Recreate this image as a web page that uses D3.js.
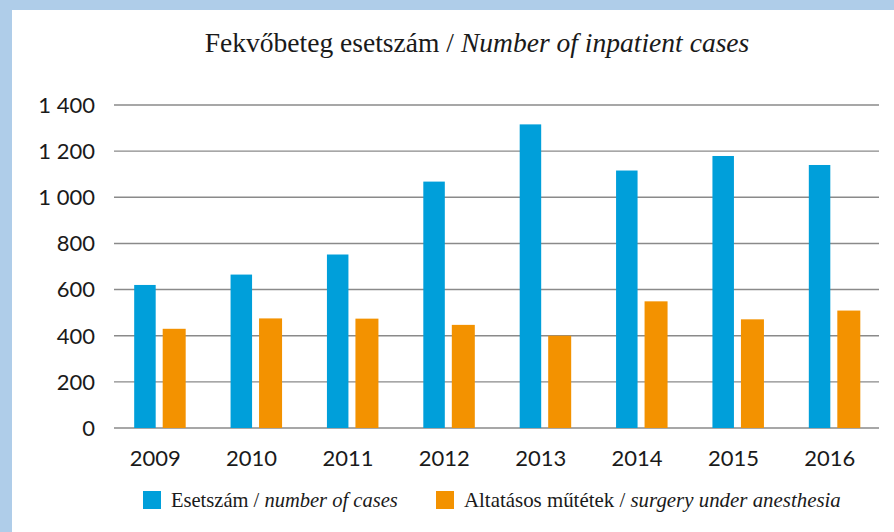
<!DOCTYPE html>
<html>
<head>
<meta charset="utf-8">
<script src="https://cdn.jsdelivr.net/npm/d3@7"></script>
<style>
    html, body { margin: 0; padding: 0; background: #fff; }
</style>
</head>
<body>
<div class="graphic"></div>
<script>
// values
const years = ["2009", "2010", "2011", "2012", "2013", "2014", "2015", "2016"]
const cases = [620, 665, 752, 1068, 1316, 1116, 1179, 1140]
const surgery = [430, 475, 474, 447, 400, 549, 471, 509]
const yTicks = [0, 200, 400, 600, 800, 1000, 1200, 1400]

const seriesNames = [
    ["Esetszám / ", "number of cases"],
    ["Altatásos műtétek / ", "surgery under anesthesia"]
]
const colors = ["#009fda", "#f39200"]

const width = 894
const height = 532
const serif = "'Liberation Serif', 'DejaVu Serif', serif"
const sans = "Lato, 'Open Sans', sans-serif"

function fitWidth(sel, target, ax) {
    // squeeze the serif text so it looks like the narrow original face
    let w = sel.node().getComputedTextLength()
    let s = target / w
    sel.attr("transform", "translate(" + ax + ",0) scale(" + s + ",1) translate(" + (-ax) + ",0)")
}

function setupChart() {
    let svg = d3.select(".graphic").append("svg")
        .attr("width", width)
        .attr("height", height)
        .style("display", "block")

    // light blue frame, top and left
    svg.append("rect").attr("x", 0).attr("y", 0).attr("width", width).attr("height", 10).attr("fill", "#afcde9")
    svg.append("rect").attr("x", 0).attr("y", 0).attr("width", 12).attr("height", height).attr("fill", "#afcde9")

    let y = d3.scaleLinear()
        .domain([0, 1400])
        .range([428, 105])

    let x = d3.scaleBand()
        .domain(years)
        .range([112, 883])
        .padding(0)

    // gridlines
    svg.selectAll("line.grid")
        .data(yTicks)
        .enter()
        .append("line")
        .attr("class", "grid")
        .attr("x1", 114)
        .attr("x2", 879)
        .attr("y1", d => y(d))
        .attr("y2", d => y(d))
        .attr("stroke", "#8a8a8a")
        .attr("stroke-width", 1.4)

    svg.selectAll("text.tick-label")
        .data(yTicks)
        .enter()
        .append("text")
        .attr("class", "tick-label")
        .attr("x", 95)
        .attr("y", d => y(d))
        .attr("dy", "0.36em")
        .attr("text-anchor", "end")
        .attr("fill", "#1a1a1a")
        .style("font-family", sans)
        .style("font-size", "22px")
        .text(d => d3.format(",")(d).replace(",", " "))

    let cx = d => x(d) + x.bandwidth() / 2

    // blue bars
    svg.selectAll("rect.cases")
        .data(years)
        .enter()
        .append("rect")
        .attr("class", "cases")
        .attr("x", d => cx(d) - 26)
        .attr("width", 21.5)
        .attr("y", (d, i) => y(cases[i]))
        .attr("height", (d, i) => y(0) - y(cases[i]))
        .attr("fill", colors[0])

    // orange bars
    svg.selectAll("rect.surgery")
        .data(years)
        .enter()
        .append("rect")
        .attr("class", "surgery")
        .attr("x", d => cx(d) + 2.5)
        .attr("width", 23)
        .attr("y", (d, i) => y(surgery[i]))
        .attr("height", (d, i) => y(0) - y(surgery[i]))
        .attr("fill", colors[1])

    svg.selectAll("text.year-label")
        .data(years)
        .enter()
        .append("text")
        .attr("class", "year-label")
        .attr("x", d => cx(d) - 5)
        .attr("y", 466)
        .attr("text-anchor", "middle")
        .attr("fill", "#1a1a1a")
        .style("font-family", sans)
        .style("font-size", "22px")
        .text(d => d)

    // title
    let title = svg.append("text")
        .attr("class", "title")
        .attr("x", 477)
        .attr("y", 52)
        .attr("text-anchor", "middle")
        .attr("fill", "#1a1a1a")
        .style("font-family", serif)
        .style("font-size", "27px")
    title.append("tspan").text("Fekvőbeteg esetszám / ")
    title.append("tspan").style("font-style", "italic").text("Number of inpatient cases")
    fitWidth(title, 545, 477)

    // legend
    let legendX = [143, 436]
    let legendW = [227, 377]
    seriesNames.forEach(function(n, i) {
        svg.append("rect")
            .attr("x", legendX[i])
            .attr("y", 491)
            .attr("width", 18)
            .attr("height", 18)
            .attr("fill", colors[i])

        let t = svg.append("text")
            .attr("class", "legend-text")
            .attr("x", legendX[i] + 28)
            .attr("y", 507)
            .attr("fill", "#1a1a1a")
            .style("font-family", serif)
            .style("font-size", "21px")
        t.append("tspan").text(n[0])
        t.append("tspan").style("font-style", "italic").text(n[1])
        fitWidth(t, legendW[i], legendX[i] + 28)
    })
}

setupChart()
</script>
</body>
</html>
